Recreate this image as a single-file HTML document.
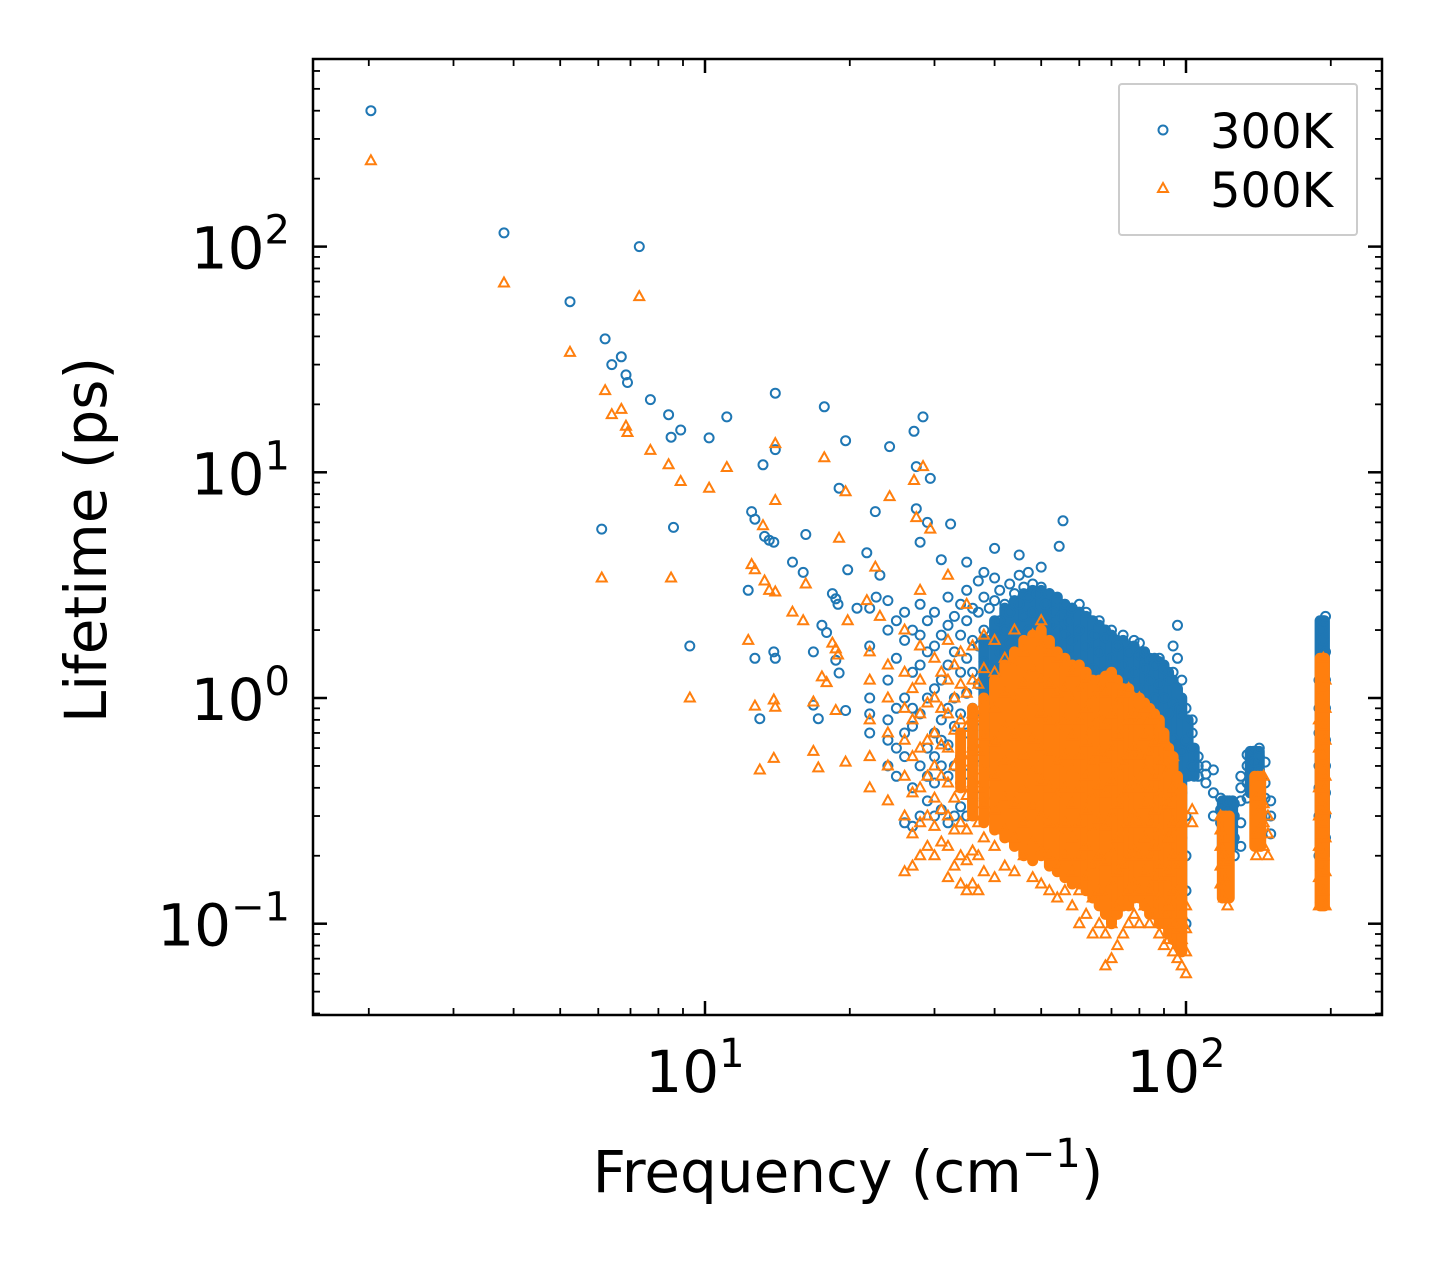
<!DOCTYPE html>
<html><head><meta charset="utf-8"><style>
html,body{margin:0;padding:0;background:#fff;}
svg{display:block;font-family:"DejaVu Sans","Liberation Sans",sans-serif;}
</style></head><body>
<svg id="chart" width="1442" height="1265" viewBox="0 0 1442 1265" xmlns="http://www.w3.org/2000/svg">
<rect x="0" y="0" width="1442" height="1265" fill="#fff"/>
<g id="marks"></g>
<g id="axes"></g>
<text x="848" y="1192" font-size="58" text-anchor="middle">Frequency (cm<tspan dy="-25" font-size="40">−1</tspan><tspan dy="25">)</tspan></text>
<text transform="translate(106,540) rotate(-90)" font-size="58" text-anchor="middle">Lifetime (ps)</text>
<g>
<rect x="1119" y="84" width="238" height="151" fill="#fff" stroke="#ccc" stroke-width="2" rx="3"/>
<circle cx="1163" cy="130" r="4.5" fill="none" stroke="#1f77b4" stroke-width="2"/>
<text x="1210" y="148" font-size="48">300K</text>
<polygon points="1163,183 1168,192 1158,192" fill="none" stroke="#ff7f0e" stroke-width="2"/>
<text x="1210" y="207" font-size="48">500K</text>
</g>
</svg>
<script>
const xTicks = [10, 100];
const xTickLabels = ["1", "2"];
const yTicks = [0.1, 1, 10, 100];
const yTickLabels = ["−1", "0", "1", "2"];
const blueSparse = [[2.02,400],[3.82,115],[5.24,57],[6.2,39],[6.4,30],[6.7,32.5],[6.85,27],[6.9,25],[7.3,100],[7.7,21],[8.4,18],[8.5,14.3],[8.9,15.4],[8.6,5.7],[6.1,5.6],[9.3,1.7],[10.2,14.2],[11.1,17.6],[14,22.4],[17.7,19.5],[19.6,13.8],[24.2,13],[27.2,15.2],[28.4,17.6],[27.5,10.6],[29.4,9.4],[13.2,10.8],[14,12.6],[19,8.5],[22.6,6.7],[27.5,6.9],[32.4,5.9],[55.5,6.1],[54.5,4.7],[12.5,6.7],[12.7,6.2],[13.3,5.2],[13.6,5.0],[13.9,4.9],[12.3,3.0],[12.7,1.5],[13.9,1.6],[14,1.5],[13,0.81],[16.2,5.3],[15.2,4],[16,3.6],[18.4,2.9],[18.7,2.75],[18.9,2.6],[19.8,3.7],[17.5,2.1],[17.9,1.95],[16.8,1.6],[18.7,1.47],[19,1.29],[16.8,0.93],[17.2,0.81],[19.6,0.88],[21.7,4.4],[23.1,3.5],[22.7,2.8],[20.7,2.5],[28,4.9],[29,6],[31,4.1],[35,4.0],[40,4.6],[45,4.3],[38,3.6]];
const orangeSparse = [[2.02,240],[3.82,69],[5.24,34],[6.2,23],[6.4,18],[6.7,19],[6.85,16],[6.9,15],[7.3,60],[7.7,12.5],[8.4,10.8],[8.9,9.1],[8.5,3.4],[6.1,3.4],[9.3,1.0],[10.2,8.5],[11.1,10.5],[14,13.4],[17.7,11.6],[19.6,8.2],[24.2,7.8],[27.2,9.2],[28.4,10.6],[27.5,6.3],[29.4,5.6],[13.2,5.8],[14,7.5],[12.5,3.9],[12.7,3.7],[13.3,3.3],[13.6,3.0],[14,2.95],[12.3,1.8],[12.7,0.92],[13.9,0.98],[14,0.91],[13,0.48],[13.9,0.54],[16.2,3.2],[15.2,2.4],[16,2.2],[18.4,1.75],[18.7,1.65],[18.9,1.55],[19.8,2.2],[17.5,1.24],[17.9,1.17],[16.8,0.96],[18.7,0.88],[16.8,0.58],[17.2,0.49],[19.6,0.52],[19,5.1],[22.6,3.8],[21.7,2.7],[23.1,2.3],[32,3.5],[28,3.0],[35,2.6]];
const blueCloud = [[22,[0.7,1.0,1.7,2.5,0.85]],[24,[0.5,0.8,1.2,2.0,2.7,0.65]],[25,[0.45,0.9,1.5,2.2,0.6]],[26,[0.28,0.55,1.0,1.8,2.4,0.7]],[27,[0.27,0.4,0.75,1.3,2.0,0.9]],[28,[0.3,0.5,0.85,1.4,1.9,2.6]],[29,[0.35,0.6,1.0,1.6,2.2,0.45]],[30,[0.3,0.42,0.7,1.1,1.7,2.4,0.55]],[31,[0.32,0.5,0.8,1.2,1.9,0.65]],[32,[0.28,0.45,0.62,0.9,1.4,2.1,2.8]],[33,[0.3,0.5,0.75,1.0,1.6,2.3]],[34,[0.33,0.55,0.85,1.3,1.9,2.6,0.42]],[35,[0.3,0.46,0.7,1.05,1.5,2.2,3.0]],[36,[0.35,0.6,0.9,1.3,1.8,2.5,0.48]],[37,[0.4,0.55,0.8,1.15,1.7,2.4,3.3]],[38,[0.36,0.5,0.72,1.0,1.45,2.0,2.8]],[39,[0.42,0.6,0.9,1.25,1.8,2.5]],[40,[0.3,0.45,0.65,0.95,1.35,1.9,2.7,3.4]],[41,[0.38,0.55,0.8,1.1,1.6,2.2,3.0]],[42,[0.33,0.5,0.7,1.0,1.4,2.0,2.6]],[43,[0.4,0.6,0.88,1.2,1.75,2.4,3.2]],[44,[0.35,0.52,0.75,1.05,1.5,2.1,2.9]],[45,[0.3,0.45,0.65,0.9,1.3,1.85,2.6,3.5]],[46,[0.38,0.58,0.82,1.15,1.65,2.3,3.1]],[47,[0.32,0.48,0.7,1.0,1.4,2.0,2.8,3.6]],[48,[0.28,0.42,0.6,0.85,1.2,1.7,2.4,3.2]],[49,[0.35,0.5,0.75,1.05,1.5,2.1,2.9]],[50,[0.25,0.38,0.55,0.8,1.1,1.6,2.2,3.1,3.8]],[51,[0.3,0.46,0.66,0.95,1.35,1.9,2.6]],[52,[0.22,0.35,0.52,0.75,1.05,1.5,2.1,2.9]],[53,[0.28,0.42,0.6,0.88,1.25,1.75,2.4]],[54,[0.2,0.32,0.48,0.7,1.0,1.4,2.0,2.7]],[55,[0.25,0.38,0.56,0.8,1.15,1.6,2.3]],[56,[0.2,0.3,0.45,0.65,0.95,1.35,1.9,2.6]],[57,[0.24,0.36,0.52,0.76,1.1,1.55,2.2]],[58,[0.18,0.28,0.42,0.62,0.9,1.3,1.8,2.5]],[60,[0.2,0.32,0.48,0.7,1.0,1.4,2.0,2.6]],[62,[0.17,0.26,0.4,0.6,0.85,1.2,1.7,2.4]],[64,[0.2,0.3,0.45,0.66,0.95,1.35,1.9]],[66,[0.15,0.24,0.36,0.54,0.8,1.15,1.6,2.2]],[68,[0.18,0.28,0.42,0.62,0.9,1.3,1.85]],[70,[0.14,0.22,0.34,0.5,0.74,1.05,1.5,2.0]],[72,[0.17,0.26,0.4,0.58,0.85,1.2,1.7]],[74,[0.12,0.2,0.31,0.46,0.68,1.0,1.4,1.9]],[76,[0.16,0.25,0.37,0.55,0.8,1.15,1.6]],[78,[0.19,0.29,0.43,0.63,0.92,1.3,1.8]],[80,[0.15,0.23,0.35,0.52,0.76,1.1,1.55,1.75]],[82,[0.2,0.3,0.45,0.66,0.95,1.35,1.6]],[84,[0.17,0.26,0.39,0.58,0.85,1.2,1.5]],[86,[0.21,0.32,0.47,0.7,1.0,1.4]],[88,[0.15,0.24,0.36,0.54,0.8,1.15,1.5]],[90,[0.13,0.2,0.3,0.45,0.68,1.0,1.35]],[92,[0.16,0.25,0.38,0.56,0.85,1.2]],[94,[0.12,0.19,0.29,0.44,0.66,0.95,1.3,1.7]],[96,[0.11,0.17,0.27,0.42,0.62,0.9,1.5,2.1]],[98,[0.1,0.15,0.24,0.38,0.58,0.85,1.2]],[100,[0.1,0.14,0.2,0.3,0.45,0.65,0.9]],[103,[0.5,0.6,0.7,0.8]],[106,[0.45,0.5,0.55]],[110,[0.42,0.46,0.5]],[114,[0.3,0.38,0.48]],[118,[0.28,0.32,0.36]],[122,[0.22,0.27,0.32,0.35]],[126,[0.2,0.24,0.3,0.34]],[130,[0.22,0.28,0.35,0.4,0.45]],[134,[0.36,0.42,0.5,0.56]],[138,[0.38,0.45,0.52,0.58]],[142,[0.4,0.48,0.55,0.6]],[146,[0.3,0.36,0.42,0.52]],[150,[0.25,0.3,0.35]],[189,[0.2,0.3,0.4,0.5,0.7,0.9,1.2]],[191,[0.22,0.27,0.35,0.45,0.6,0.8,1.0,1.5,2.0]],[193,[0.25,0.32,0.42,0.55,0.75,1.1,1.4,1.8,2.2]],[195,[0.24,0.3,0.38,0.5,0.65,0.9,1.2,1.6,2.3]]];
const orangeCloud = [[22,[0.4,0.55,0.8,1.2,1.6]],[24,[0.35,0.5,0.7,1.0,1.4]],[26,[0.17,0.3,0.45,0.65,0.9,1.3,2.0]],[27,[0.18,0.25,0.38,0.55,0.8,1.1]],[28,[0.2,0.28,0.4,0.6,0.85,1.2,1.7]],[29,[0.22,0.3,0.45,0.65,0.95]],[30,[0.2,0.27,0.36,0.5,0.7,1.0,1.5]],[31,[0.23,0.32,0.45,0.62,0.9,1.3]],[32,[0.16,0.22,0.3,0.42,0.6,0.85,1.2,1.8]],[33,[0.18,0.26,0.36,0.5,0.72,1.0,1.4]],[34,[0.15,0.2,0.28,0.4,0.56,0.8,1.15,1.6]],[35,[0.14,0.19,0.26,0.37,0.52,0.74,1.05]],[36,[0.15,0.21,0.3,0.42,0.6,0.85,1.2,1.7]],[37,[0.14,0.2,0.28,0.4,0.58,0.82,1.15]],[38,[0.17,0.24,0.34,0.48,0.68,0.95,1.35,1.9]],[40,[0.16,0.22,0.32,0.45,0.64,0.9,1.3,1.8]],[42,[0.18,0.26,0.36,0.52,0.74,1.05,1.5]],[44,[0.17,0.24,0.34,0.48,0.68,0.97,1.4,2.0]],[46,[0.2,0.28,0.4,0.56,0.8,1.15,1.6]],[48,[0.16,0.23,0.33,0.47,0.66,0.95,1.35,1.9]],[50,[0.15,0.21,0.3,0.43,0.6,0.86,1.2,1.7,2.2]],[52,[0.14,0.2,0.28,0.4,0.57,0.8,1.15,1.6]],[54,[0.13,0.18,0.26,0.37,0.52,0.74,1.05,1.5]],[56,[0.14,0.2,0.28,0.4,0.56,0.8,1.1,1.4]],[58,[0.12,0.17,0.24,0.34,0.48,0.68,0.97,1.3]],[60,[0.1,0.14,0.2,0.28,0.4,0.56,0.8,1.1]],[62,[0.11,0.16,0.22,0.32,0.45,0.64,0.9,1.2]],[64,[0.09,0.13,0.18,0.26,0.37,0.52,0.74,1.0]],[66,[0.1,0.14,0.2,0.29,0.41,0.58,0.82,1.1]],[68,[0.065,0.09,0.13,0.19,0.27,0.38,0.54,0.76,1.05]],[70,[0.07,0.1,0.15,0.21,0.3,0.43,0.6,0.85,1.2]],[72,[0.08,0.12,0.17,0.24,0.34,0.48,0.68,0.95]],[74,[0.09,0.13,0.18,0.26,0.37,0.52,0.74,1.05]],[76,[0.1,0.14,0.2,0.28,0.4,0.56,0.8,1.1]],[78,[0.11,0.15,0.21,0.3,0.42,0.6,0.85]],[80,[0.1,0.14,0.2,0.28,0.4,0.56,0.8,1.0]],[82,[0.12,0.17,0.24,0.34,0.48,0.68,0.9]],[84,[0.1,0.14,0.2,0.28,0.4,0.57,0.8]],[86,[0.11,0.16,0.22,0.32,0.45,0.64,0.85]],[88,[0.09,0.13,0.18,0.26,0.37,0.52,0.74]],[90,[0.08,0.11,0.16,0.23,0.33,0.47,0.66]],[92,[0.085,0.12,0.17,0.24,0.34,0.48,0.6]],[94,[0.075,0.1,0.14,0.2,0.28,0.4,0.55]],[96,[0.07,0.095,0.13,0.18,0.26,0.37]],[98,[0.065,0.085,0.11,0.15,0.2,0.28]],[100,[0.06,0.075,0.095,0.12]],[103,[0.28,0.32]],[118,[0.15,0.18,0.22,0.26,0.3]],[120,[0.13,0.16,0.2,0.24]],[122,[0.12,0.15,0.19]],[140,[0.2,0.25,0.3,0.36,0.42]],[145,[0.22,0.28,0.34,0.45]],[148,[0.2,0.25,0.3]],[189,[0.12,0.16,0.22,0.3,0.4,0.6,0.8]],[191,[0.13,0.18,0.25,0.35,0.5,0.7,1.0,1.4]],[193,[0.14,0.2,0.28,0.4,0.55,0.75,1.1,1.5]],[195,[0.12,0.17,0.24,0.32,0.45,0.65,0.9,1.2]]];
// dense overlapping cores (range of densely packed points per frequency column)
const blueBandFreq = [38,40,42,44,46,48,50,52,54,56,58,60,62,64,66,68,70,72,74,76,78,80,82,84,86,88,90,92,94,96,98,101,104,119,121,123,125,136,138,140,142,190,192,194];
const blueBandLo = [0.5,0.45,0.4,0.38,0.35,0.33,0.3,0.28,0.27,0.26,0.25,0.24,0.22,0.21,0.2,0.19,0.18,0.18,0.17,0.17,0.17,0.17,0.17,0.17,0.17,0.16,0.16,0.15,0.14,0.13,0.12,0.45,0.45,0.22,0.22,0.22,0.22,0.38,0.38,0.38,0.38,0.2,0.2,0.2];
const blueBandHi = [1.8,2.2,2.5,2.7,2.9,3.0,3.0,2.9,2.8,2.6,2.5,2.4,2.3,2.2,2.1,2.0,1.9,1.8,1.8,1.7,1.7,1.6,1.6,1.5,1.5,1.45,1.4,1.3,1.2,1.1,1.0,0.8,0.6,0.35,0.35,0.35,0.35,0.58,0.58,0.58,0.58,2.2,2.2,2.2];
const orangeBandFreq = [34,36,38,40,42,44,46,48,50,52,54,56,58,60,62,64,66,68,70,72,74,76,78,80,82,84,86,88,90,92,94,96,98,119,121,123,139,141,143,190,192,194];
const orangeBandLo = [0.4,0.3,0.28,0.26,0.24,0.22,0.2,0.19,0.2,0.18,0.17,0.16,0.15,0.15,0.14,0.13,0.12,0.11,0.1,0.11,0.12,0.12,0.13,0.13,0.12,0.11,0.11,0.1,0.1,0.09,0.085,0.08,0.075,0.13,0.13,0.13,0.22,0.22,0.22,0.12,0.12,0.12];
const orangeBandHi = [0.7,0.9,1.0,1.2,1.4,1.6,1.8,1.9,2.0,1.8,1.6,1.5,1.4,1.4,1.3,1.2,1.2,1.25,1.3,1.2,1.1,1.1,1.0,1.0,0.95,0.9,0.85,0.8,0.7,0.6,0.55,0.45,0.4,0.3,0.3,0.3,0.45,0.45,0.45,1.5,1.5,1.5];

const NS = "http://www.w3.org/2000/svg";
const L = 313, R = 1382, T = 59, B = 1015;
function sx(f){ return 705 + 481 * (Math.log10(f) - 1); }
function sy(v){ return 698 - 225.7 * Math.log10(v); }
function mk(tag, attrs, parent){ const e = document.createElementNS(NS, tag); for (const k in attrs) e.setAttribute(k, attrs[k]); parent.appendChild(e); return e; }
const marks = document.getElementById('marks');
const axes = document.getElementById('axes');

function flatten(sparse, cloud){ const pts = sparse.slice(); cloud.forEach(c => c[1].forEach(v => pts.push([c[0], v]))); return pts; }
const bluePts = flatten(blueSparse, blueCloud);
const orangePts = flatten(orangeSparse, orangeCloud);

function drawBands(freqs, lo, hi, color, name){
  const g = mk('g', {}, marks);
  
  
  freqs.forEach((f, i) => {
    const x = sx(f);
    const ln = mk('line', {x1: x, x2: x, y1: sy(lo[i]), y2: sy(hi[i]), stroke: color, 'stroke-width': 11, 'stroke-linecap': 'round'}, g);
    
    
  });
}

drawBands(blueBandFreq, blueBandLo, blueBandHi, '#1f77b4', 'series-300k-dense');
const gb = mk('g', {}, marks);


bluePts.forEach(p => {
  const c = mk('circle', {cx: sx(p[0]).toFixed(1), cy: sy(p[1]).toFixed(1), r: 4.5, fill: 'none', stroke: '#1f77b4', 'stroke-width': 2}, gb);
  
  
});
drawBands(orangeBandFreq, orangeBandLo, orangeBandHi, '#ff7f0e', 'series-500k-dense');
const go = mk('g', {}, marks);


orangePts.forEach(p => {
  const x = sx(p[0]), y = sy(p[1]);
  const t = mk('polygon', {points: `${x},${y-5.5} ${x+5},${y+3.5} ${x-5},${y+3.5}`, fill: 'none', stroke: '#ff7f0e', 'stroke-width': 2}, go);
  
  
});

const frame = mk('rect', {x: L, y: T, width: R - L, height: B - T, fill: 'none', stroke: '#000', 'stroke-width': 2.5}, axes);



for (let d = 0; d <= 2; d++) {
  for (let m = 1; m <= 9; m++) {
    const f = m * Math.pow(10, d);
    const x = sx(f);
    if (x < L || x > R) continue;
    const len = m === 1 ? 14 : 7, w = m === 1 ? 2.5 : 1.8;
    mk('line', {x1: x, y1: B, x2: x, y2: B - len, stroke: '#000', 'stroke-width': w}, axes);
    mk('line', {x1: x, y1: T, x2: x, y2: T + len, stroke: '#000', 'stroke-width': w}, axes);
  }
}
for (let d = -2; d <= 2; d++) {
  for (let m = 1; m <= 9; m++) {
    const v = m * Math.pow(10, d);
    const y = sy(v);
    if (y < T || y > B) continue;
    const len = m === 1 ? 14 : 7, w = m === 1 ? 2.5 : 1.8;
    mk('line', {x1: L, y1: y, x2: L + len, y2: y, stroke: '#000', 'stroke-width': w}, axes);
    mk('line', {x1: R, y1: y, x2: R - len, y2: y, stroke: '#000', 'stroke-width': w}, axes);
  }
}
xTicks.forEach((f, i) => {
  const t = mk('text', {x: sx(f) - 10, y: 1092, 'font-size': 58, 'text-anchor': 'middle'}, axes);
  
  
  t.innerHTML = `10<tspan dy="-25" font-size="40">${xTickLabels[i]}</tspan>`;
});
yTicks.forEach((v, i) => {
  const t = mk('text', {x: 290, y: sy(v) + 22, 'font-size': 58, 'text-anchor': 'end'}, axes);
  
  
  t.innerHTML = `10<tspan dy="-25" font-size="40">${yTickLabels[i]}</tspan>`;
});
</script>
</body></html>
